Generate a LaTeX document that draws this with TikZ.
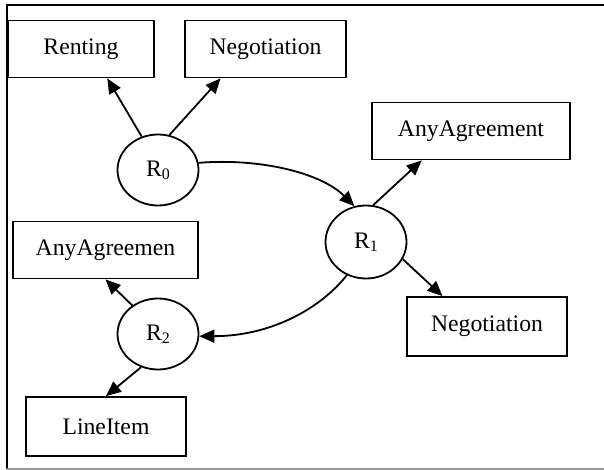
\documentclass[tikz,border=0pt]{standalone}
\usepackage{fontspec}
\setmainfont{Liberation Serif}
\usetikzlibrary{shapes.geometric,arrows.meta,calc}
\newcommand{\Rsub}[1]{R\raisebox{-3pt}{\fontsize{16}{16}\selectfont #1}}
\begin{document}
\begin{tikzpicture}[x=1pt,y=-1pt,
  every node/.style={font=\fontsize{23.7}{28}\selectfont},
  cls/.style={draw,line width=1.8pt,rectangle,inner sep=0pt,minimum height=57pt},
  role/.style={draw,line width=1.8pt,ellipse,inner sep=0pt,minimum width=81pt,minimum height=71pt},
  rel/.style={line width=1.8pt,-{Triangle[length=15pt,width=13pt]}}]
\useasboundingbox (0,0) rectangle (604,470);
% frame
\draw[line width=2pt] (6.5,469) -- (6.5,5.5) -- (604,5.5);
\draw[line width=1.4pt,gray!80] (6.5,469) -- (604,469);

% classes
\node[cls,minimum width=146pt] (renting) at (81,49) {Renting};
\node[cls,minimum width=161pt] (nego1) at (265.5,49) {Negotiation};
\node[cls,minimum width=198pt] (anyag) at (471,131) {AnyAgreement};
\node[cls,minimum width=160pt,minimum height=59pt] (nego2) at (487,326.5) {Negotiation};
\node[cls,minimum width=185pt] (anyagn) at (105.5,250) {AnyAgreemen};
\node[cls,minimum width=160pt,minimum height=59pt] (lineitem) at (106,426.5) {LineItem};

% roles
\node[role] (r0) at (158,170) {\Rsub{0}};
\node[role,minimum height=73pt] (r1) at (366,242) {\Rsub{1}};
\node[role] (r2) at (158,334) {\Rsub{2}};

% straight links
\draw[rel] (r0.116) -- ($(renting.south west)!0.678!(renting.south east)$);
\draw[rel] (r0.72) -- ($(nego1.south west)!0.224!(nego1.south east)$);
\draw[rel] (r1.79) -- ($(anyag.south west)!0.253!(anyag.south east)$);
\draw[rel] (r1.-25) -- ($(nego2.north west)!0.225!(nego2.north east)$);
\draw[rel] (r2.132) -- (anyagn.south);
\draw[rel] (r2.243) -- (lineitem.north);

% curved links between roles
\draw[rel] (r0.10) .. controls +(62,-5) and +(-33,-33) .. (r1.108);
\draw[rel] (r1.240) .. controls +(-26,33) and +(72,0) .. (r2.-3);
\end{tikzpicture}
\end{document}
